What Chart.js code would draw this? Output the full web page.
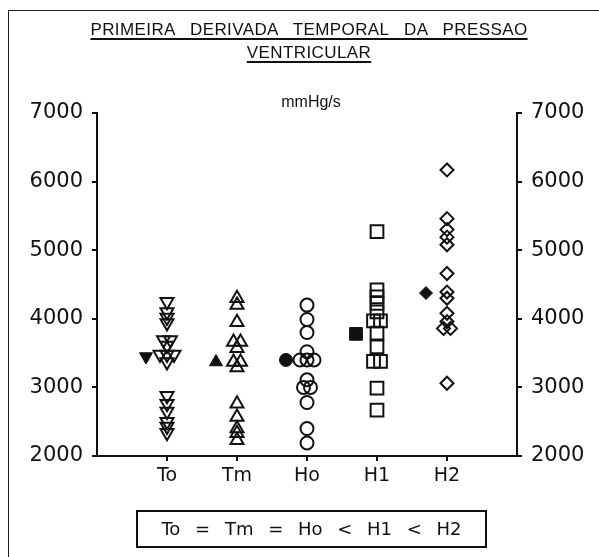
<!DOCTYPE html>
<html>
<head>
<meta charset="utf-8">
<script src="https://cdn.jsdelivr.net/npm/chart.js@4.4.1/dist/chart.umd.min.js"></script>
<style>
  body { margin: 0; background: #fff; }
  #wrap { position: relative; width: 599px; height: 557px; overflow: hidden; }
  #c { position: absolute; left: 0; top: 0; }
  .frame { position: absolute; left: 8px; top: 10px; width: 600px; height: 560px;
           border-top: 1.5px solid #222; border-left: 1.5px solid #222; }
  .title { position: absolute; left: 0; width: 618px; text-align: center;
           font-family: "Liberation Sans", Arial, sans-serif; font-size: 17px; color: #111;
           letter-spacing: 0.4px; word-spacing: 10px; text-decoration: underline;
           text-underline-offset: 3px; text-decoration-thickness: 1.5px; white-space: nowrap; }
  .unit { position: absolute; left: 0; width: 622px; top: 93px; text-align: center;
          font-family: "Liberation Sans", Arial, sans-serif; font-size: 16px; color: #111; }
  .note { position: absolute; left: 136px; top: 510px; width: 347px; height: 34px;
          border: 2px solid #111; text-align: center; line-height: 34px;
          font-family: "DejaVu Sans", sans-serif; font-size: 18px; color: #111; word-spacing: 9px; }
</style>
</head>
<body>
<div id="wrap">
  <canvas id="c" width="599" height="557"></canvas>
  <div class="frame"></div>
  <div class="title" style="top:20px">PRIMEIRA DERIVADA TEMPORAL DA PRESSAO</div>
  <div class="title" style="top:43px">VENTRICULAR</div>
  <div class="unit">mmHg/s</div>
  <div class="note">To = Tm = Ho &lt; H1 &lt; H2</div>
</div>
<script>
// --- data (mmHg/s) ---
const categories = ["To", "Tm", "Ho", "H1", "H2"];
const valuesTo = [4250, 4100, 4020, 3940, 3690, 3690, 3610, 3480, 3480, 3480, 3370, 2880, 2760, 2650, 2500, 2430, 2340];
const valuesTm = [4300, 4200, 3950, 3660, 3660, 3570, 3370, 3370, 3290, 2760, 2570, 2400, 2330, 2230];
const valuesHo = [4200, 3990, 3800, 3520, 3400, 3400, 3400, 3110, 3000, 3000, 2780, 2400, 2190];
const valuesH1 = [5270, 4420, 4320, 4225, 4100, 3970, 3970, 3790, 3590, 3380, 3380, 2990, 2670];
const valuesH2 = [6170, 5460, 5300, 5190, 5080, 4660, 4390, 4300, 4080, 3960, 3860, 3860, 3060];
const means = [3450, 3370, 3400, 3780, 4375];
const yTicks = [2000, 3000, 4000, 5000, 6000, 7000];

const groups = [valuesTo, valuesTm, valuesHo, valuesH1, valuesH2];
const shapes = [
  { style: "triangle", rotation: 180, r: 7.5 },
  { style: "triangle", rotation: 0, r: 7.5 },
  { style: "circle", rotation: 0, r: 6.5 },
  { style: "rect", rotation: 0, r: 9 },
  { style: "rectRot", rotation: 0, r: 6.5 },
];

// equal values are spread sideways around the category
function spread(vals, center) {
  const count = {}, seen = {};
  vals.forEach(v => { count[v] = (count[v] || 0) + 1; });
  return vals.map(v => {
    const i = seen[v] || 0;
    seen[v] = i + 1;
    return { x: center + (i - (count[v] - 1) / 2) * 0.1, y: v };
  });
}

const datasets = [];
groups.forEach((vals, g) => {
  const s = shapes[g];
  datasets.push({
    data: spread(vals, g + 1),
    pointStyle: s.style, rotation: s.rotation, pointRadius: s.r,
    pointBorderColor: "#111", pointBackgroundColor: "rgba(0,0,0,0)", pointBorderWidth: 2,
  });
  datasets.push({
    data: [{ x: g + 1 - 0.3, y: means[g] }],
    pointStyle: s.style, rotation: s.rotation, pointRadius: s.r,
    pointBorderColor: "#111", pointBackgroundColor: "#111", pointBorderWidth: 1,
  });
});

const tickFont = { family: "DejaVu Sans", size: 21 };
const axisLine = { display: true, color: "#111", width: 2 };
const tickMarks = { display: true, drawOnChartArea: false, drawTicks: true, tickLength: 5, tickColor: "#111", lineWidth: 2 };

function yScale(position, w) {
  return {
    position, min: 2000, max: 7000,
    afterBuildTicks: s => { s.ticks = yTicks.map(v => ({ value: v })); },
    ticks: { font: tickFont, color: "#111", padding: 9, callback: v => String(v) },
    grid: tickMarks, border: axisLine,
    afterFit: s => { s.width = w; },
  };
}

new Chart(document.getElementById("c"), {
  type: "scatter",
  data: { datasets },
  options: {
    responsive: false, animation: false, devicePixelRatio: 1,
    layout: { padding: { top: 113, left: 0, right: 0, bottom: 0 } },
    plugins: { legend: { display: false }, tooltip: { enabled: false } },
    scales: {
      x: {
        type: "linear", min: 0, max: 6,
        afterBuildTicks: s => { s.ticks = categories.map((c, i) => ({ value: i + 1 })); },
        ticks: { font: { family: "DejaVu Sans", size: 19 }, color: "#111", padding: 4,
                 autoSkip: false, maxRotation: 0, callback: v => categories[v - 1] },
        grid: tickMarks, border: axisLine,
        afterFit: s => { s.height = 101; },
      },
      y: yScale("left", 97),
      y2: yScale("right", 82),
    },
  },
});
</script>
</body>
</html>
